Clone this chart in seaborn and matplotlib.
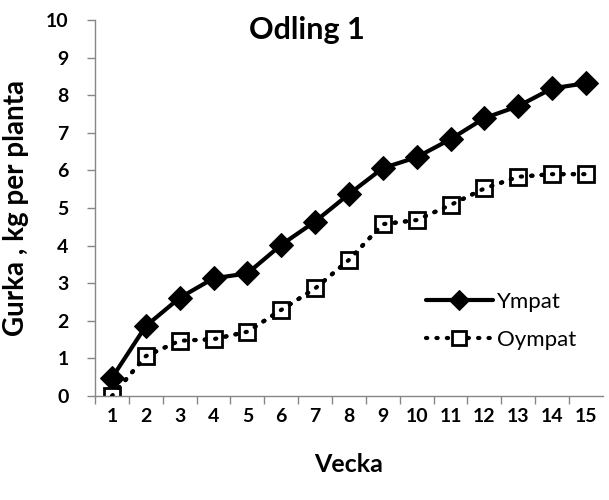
import matplotlib
matplotlib.use("Agg")
import matplotlib.pyplot as plt
import seaborn as sns
import pandas as pd
from matplotlib.ticker import FixedLocator

weeks = [1, 2, 3, 4, 5, 6, 7, 8, 9, 10, 11, 12, 13, 14, 15]
ympat = [0.48, 1.86, 2.61, 3.13, 3.26, 4.02, 4.64, 5.37, 6.06, 6.35, 6.83, 7.39, 7.71, 8.18, 8.32]
oympat = [0.0, 1.06, 1.47, 1.51, 1.71, 2.29, 2.86, 3.62, 4.57, 4.68, 5.08, 5.52, 5.83, 5.90, 5.90]
yticks = [0, 1, 2, 3, 4, 5, 6, 7, 8, 9, 10]

sns.set_theme(style="white")
plt.rcParams['font.family'] = ['Lato', 'DejaVu Sans']
plt.rcParams['text.color'] = 'black'
plt.rcParams['axes.labelcolor'] = 'black'

fig = plt.figure(figsize=(6.09, 5.0), dpi=100)
ax = fig.add_axes([0.156, 0.208, 0.834, 0.752])

df_y = pd.DataFrame({"Vecka": weeks, "val": ympat})
df_o = pd.DataFrame({"Vecka": weeks, "val": oympat})

dotted = (0, (0.3, 2.2))

sns.lineplot(data=df_y, x="Vecka", y="val", ax=ax, color="black", lw=3,
             marker="D", markersize=12, markerfacecolor="black",
             markeredgecolor="black", label="Ympat")
sns.lineplot(data=df_o, x="Vecka", y="val", ax=ax, color="black", lw=3,
             linestyle=dotted, dash_capstyle="round",
             marker="s", markersize=12, markerfacecolor="white",
             markeredgecolor="black", markeredgewidth=2, label="Oympat")
# dotted line drawn again over the open squares, as in the original
sns.lineplot(data=df_o, x="Vecka", y="val", ax=ax, color="black", lw=3,
             linestyle=dotted, dash_capstyle="round", zorder=5, legend=False)

ax.set_xlim(0.5, 15.5)
ax.set_ylim(0, 10)
ax.set_yticks(yticks)
ax.set_xticks(weeks)
ax.xaxis.set_minor_locator(FixedLocator([w + 0.5 for w in weeks[:-1]] + [0.5]))
ax.tick_params(axis="x", which="major", length=0, pad=9)
ax.tick_params(axis="x", which="minor", length=6, color="#868686", width=1, direction="out", bottom=True)
ax.tick_params(axis="y", which="major", length=6, color="#868686", width=1, direction="out", left=True, pad=13)
for lbl in ax.get_xticklabels() + ax.get_yticklabels():
    lbl.set_fontsize(14)
    lbl.set_fontweight("bold")
    lbl.set_color("black")

for s in ["top", "right"]:
    ax.spines[s].set_visible(False)
for s in ["left", "bottom"]:
    ax.spines[s].set_color("#868686")
    ax.spines[s].set_linewidth(1)

ax.set_xlabel("Vecka", fontsize=18, fontweight="bold", labelpad=20)
ax.set_ylabel("Gurka , kg per planta", fontsize=20, fontweight="bold", labelpad=12)
ax.text(0.417, 0.973, "Odling 1", transform=ax.transAxes, ha="center", va="center",
        fontsize=22, fontweight="bold")

leg = ax.legend(loc="center", bbox_to_anchor=(0.80, 0.20), frameon=False,
                fontsize=16, handlelength=3.0, handletextpad=0.2, labelspacing=0.8)
for h in leg.legend_handles:
    h.set_markersize(10)

fig.savefig("out.png", dpi=100)
